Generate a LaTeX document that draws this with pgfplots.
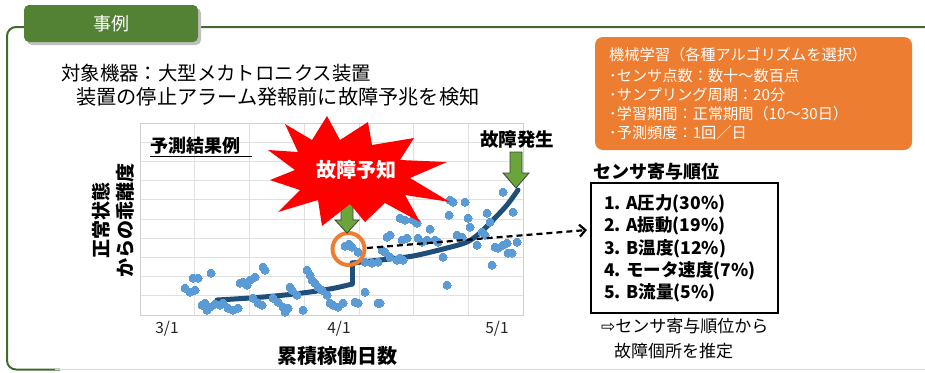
\documentclass[border=0pt]{standalone}
\usepackage{fontspec}
\setmainfont{Noto Sans CJK JP}
\newfontfamily\dejavu{DejaVu Sans}
\usepackage{pgfplots}
\pgfplotsset{compat=1.18}
\usetikzlibrary{arrows.meta}
\definecolor{tabgreen}{HTML}{548235}
\definecolor{framegreen}{HTML}{44692C}
\definecolor{boxorange}{HTML}{ED7D31}
\definecolor{dotblue}{HTML}{5B9BD5}
\definecolor{trendblue}{HTML}{1F4E79}
\definecolor{arrowgreen}{HTML}{6BA539}
\begin{document}
\begin{tikzpicture}[x=1bp,y=-1bp]
\path[use as bounding box] (0,0) rectangle (925,372);
% frame
\draw[framegreen, line width=2bp, rounded corners=9bp] (940,27) -- (7,27) -- (7,369.5) -- (60,369.5);
\draw[tabgreen!25, line width=1.2bp] (55,369.8) -- (925,369.8);
% tab
\fill[black!25, rounded corners=5bp] (27,8) rectangle (201,45);
\fill[tabgreen, rounded corners=5bp] (24,5) rectangle (198,42);
\node[white, font=\fontsize{18bp}{20bp}\selectfont] at (111,23.5) {事例};
% headings
\node[anchor=west, inner sep=0, font=\fontsize{19.4bp}{22bp}\selectfont] at (61,73) {対象機器：大型メカトロニクス装置};
\node[anchor=west, inner sep=0, font=\fontsize{20.2bp}{22bp}\selectfont] at (76,97) {装置の停止アラーム発報前に故障予兆を検知};

\begin{axis}[
  at={(140bp,-315bp)}, anchor=south west,
  scale only axis, width=383bp, height=192bp,
  xmin=140, xmax=523, ymin=123, ymax=315, y dir=reverse,
  xtick={140,194.7,249.4,304.1,358.9,413.6,468.3,523},
  ytick={123,142.2,161.4,180.6,199.8,219,238.2,257.4,276.6,295.8,315},
  xticklabels={}, yticklabels={},
  grid=major, major grid style={black!12, line width=0.8bp},
  axis line style={black!18, line width=0.8bp},
  major tick length=0,
  extra x ticks={167,339,497},
  extra x tick labels={3/1,4/1,5/1},
  extra x tick style={grid=none, major tick length=0},
  xticklabel style={font=\fontsize{15.5bp}{17bp}\selectfont, text=black!85, yshift=-3bp},
  clip=false,
]
\addplot[only marks, mark=*, color=dotblue, mark size=4bp, mark options={solid, draw=dotblue, fill=dotblue, line width=0pt}] coordinates {
(185,288)(190,292)(195,290)(193,278)(198,278)(211,273)
(202,305)(205,303)(207,310)(210,307)(215,304)(220,305)(223,303)(228,308)(233,310)(238,308)
(240,283)(243,282)(247,285)(250,280)(255,277)(263,267)(265,270)
(253,298)(258,303)(262,305)
(273,298)(278,302)(283,307)(288,308)(285,312)
(290,287)(292,290)(297,295)(303,310)
(307,270)(310,275)(312,280)(315,283)(318,287)(322,290)
(327,295)(330,303)(333,305)(338,307)(343,303)
(355,302)(358,303)(365,292)(378,303)(380,303)
(345,246)(349,244)(352,247)(358,252)
(365,262)(372,263)(378,262)
(387,237)(390,235)(382,250)(385,252)(390,257)(397,260)(400,258)(403,260)
(402,240)(407,238)(400,218)(405,220)(413,220)(417,223)(418,238)(422,242)(427,240)(430,229)(435,240)(438,242)(443,257)(447,285)
(450,200)(453,202)(465,202)(449,215)(457,235)(462,237)(468,218)(470,227)(477,245)(487,213)(490,222)(482,232)(485,235)(492,265)
(495,247)(498,248)(503,245)(507,243)(508,253)(512,253)(503,192)(513,212)(517,242)
};
\addplot[trendblue, line width=5bp, smooth, line cap=round] coordinates {
(217,300)(250,298)(280,295.5)(310,292)(335,288)(352,284)};
\addplot[trendblue, line width=5bp, line cap=round] coordinates {(352,284)(352,263)};
\addplot[trendblue, line width=5bp, smooth, line cap=round] coordinates {
(352,263)(380,260)(413,256)(447,248)(467,242)(480,233)(493,220)(507,205)(518,190)};
\end{axis}

% dashed arrow
\draw[black, line width=2.2bp, dash pattern=on 6bp off 4bp, -{Straight Barb[length=6bp,width=12bp,line width=2.2bp]}] (367,248) -- (587,230);
% orange circle
\draw[boxorange, line width=4bp] (348.5,249) circle[radius=16bp];
% green arrows
\filldraw[fill=arrowgreen, draw=black!75, line width=0.8bp] (341,203) -- (353,203) -- (353,220) -- (359,220) -- (347,233) -- (335,220) -- (341,220) -- cycle;
\filldraw[fill=arrowgreen, draw=black!75, line width=0.8bp] (510,152) -- (522,152) -- (522,173) -- (529,173) -- (516,188) -- (503,173) -- (510,173) -- cycle;
% burst
\fill[red] (327,116) -- (340,140) -- (368,122) -- (372,145) -- (414,138) -- (400,160) -- (447,162) -- (410,178) -- (450,202) -- (405,195) -- (420,222) -- (385,203) -- (365,222) -- (350,204) -- (322,226) -- (318,200) -- (278,212) -- (300,190) -- (270,180) -- (295,170) -- (268,150) -- (298,152) -- (285,124) -- (312,140) -- cycle;
\node[white, font=\bfseries\fontsize{20bp}{22bp}\selectfont] at (356,170) {故障予知};
% labels
\node[anchor=west, inner sep=0, font=\bfseries\fontsize{18bp}{20bp}\selectfont] at (150,146) {予測結果例};
\draw[black, line width=1.2bp] (150,156.5) -- (252,156.5);
\node[font=\bfseries\fontsize{18.5bp}{20bp}\selectfont] at (517,139) {故障発生};
\node[rotate=90, align=center, font=\bfseries\fontsize{19bp}{24bp}\selectfont] at (113,220) {正常状態\\からの乖離度};
\node[font=\bfseries\fontsize{20bp}{22bp}\selectfont] at (337,356) {累積稼働日数};
% orange box
\fill[boxorange, rounded corners=8bp] (595,37) rectangle (912,150);
\begin{scope}[every node/.style={anchor=west, inner sep=0, text=white, font=\fontsize{15.2bp}{18bp}\selectfont}]
\node at (609,55) {機械学習（各種アルゴリズムを選択）};
\node at (609,76) {･センサ点数：数十～数百点};
\node at (609,95) {･サンプリング周期：20分};
\node at (609,114) {･学習期間：正常期間（10～30日）};
\node at (609,133) {･予測頻度：1回／日};
\end{scope}
% sensor ranking
\node[anchor=west, inner sep=0, font=\bfseries\fontsize{18bp}{20bp}\selectfont] at (593,172) {センサ寄与順位};
\draw[black, line width=1.3bp] (591,183) rectangle (778,313);
\begin{scope}[every node/.style={anchor=west, inner sep=0, font=\bfseries\fontsize{17.5bp}{20bp}\selectfont}]
\node at (604,204) {1. A圧力(30\%)};
\node at (604,226) {2. A振動(19\%)};
\node at (604,249) {3. B温度(12\%)};
\node at (604,271) {4. モータ速度(7\%)};
\node at (604,293) {5. B流量(5\%)};
\end{scope}
\node[anchor=west, inner sep=0, font=\fontsize{17bp}{20bp}\selectfont] at (601,326) {{\dejavu ⇨}センサ寄与順位から};
\node[anchor=west, inner sep=0, font=\fontsize{17bp}{20bp}\selectfont] at (614,351) {故障個所を推定};
\end{tikzpicture}
\end{document}
